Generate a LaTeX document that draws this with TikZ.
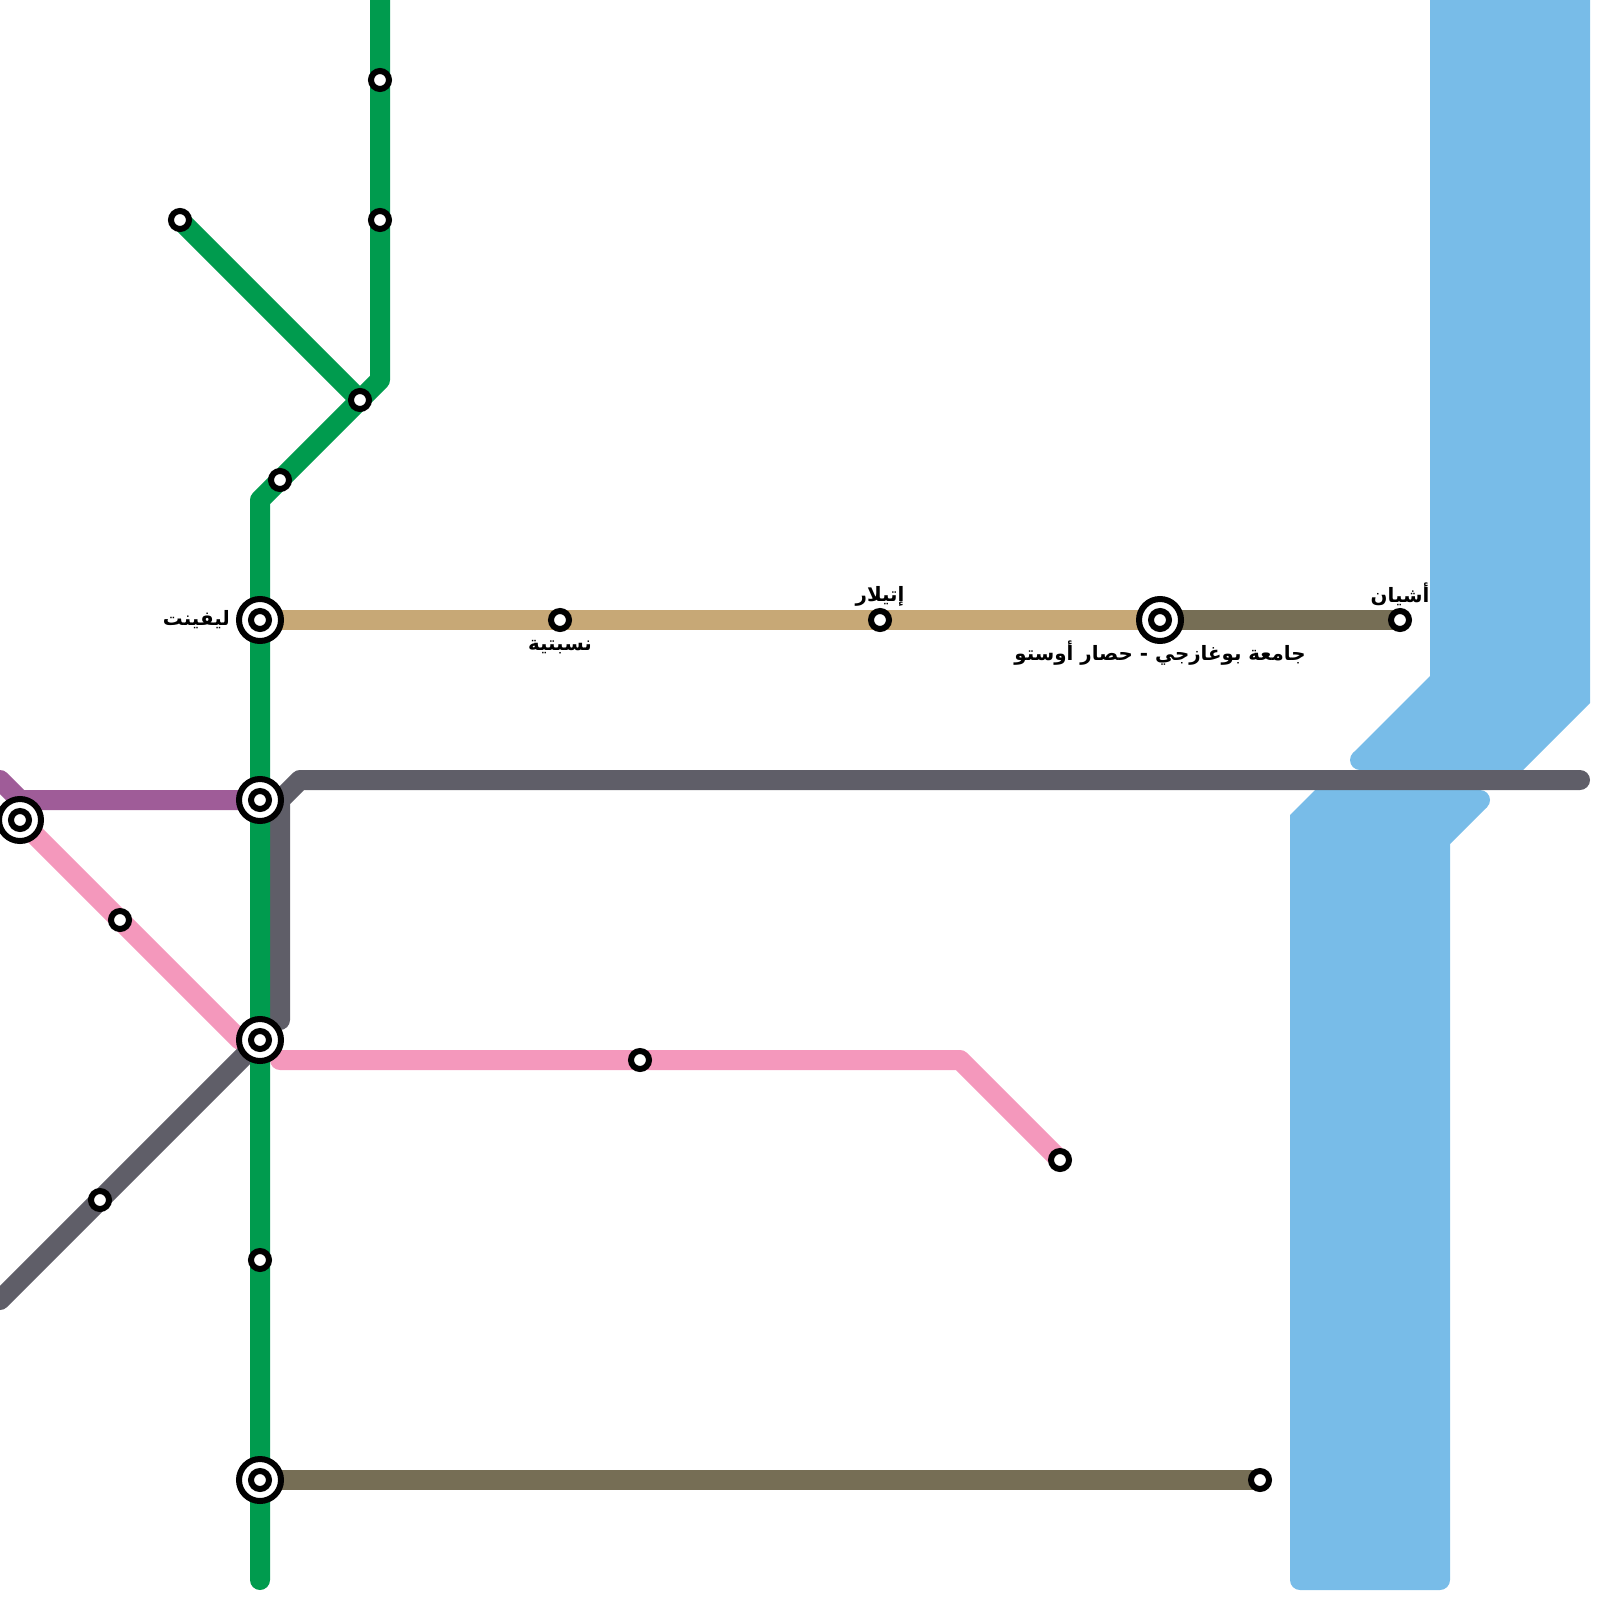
\documentclass[tikz,border=0pt]{standalone}
\usepackage{fontspec}
\newfontfamily\arabicfont[Script=Arabic]{DejaVu Sans}
\TeXXeTstate=1
\pgfdeclarelayer{lines}
\pgfsetlayers{lines,main}
\definecolor{metrogreen}{HTML}{009B4E}
\definecolor{metrotan}{HTML}{C7A876}
\definecolor{metroolive}{HTML}{766E55}
\definecolor{metrogray}{HTML}{5F5E68}
\definecolor{metropurple}{HTML}{9F5C98}
\definecolor{metropink}{HTML}{F498BC}
\definecolor{metrowater}{HTML}{78BCE8}
\tikzset{
  x=1pt,y=-1pt,
  metro/.style={line width=20pt,line cap=round,line join=round},
  stopmark/.style={circle,draw=black,fill=white,line width=6pt,minimum size=18pt,inner sep=0pt,outer sep=0pt},
  hubmark/.style={circle,draw=black,fill=white,line width=6pt,minimum size=42pt,inner sep=0pt,outer sep=0pt},
  hubcore/.style={circle,draw=black,fill=white,line width=6pt,minimum size=18pt,inner sep=0pt,outer sep=0pt},
  stationlabel/.style={font=\arabicfont\bfseries\fontsize{19.8}{24}\selectfont,text=black,inner sep=0pt},
}
\begin{document}
\begin{tikzpicture}
\useasboundingbox (0,0) rectangle (1600,1600);
\clip (0,0) rectangle (1600,1600);
% stations
\node[hubmark] (levent) at (260,620) {};
\node[hubcore] (leventc) at (260,620) {};
\node[hubmark] (gayr) at (260,800) {};
\node[hubcore] (gayrc) at (260,800) {};
\node[hubmark] (mid) at (260,1040) {};
\node[hubcore] (midc) at (260,1040) {};
\node[hubmark] (south) at (260,1480) {};
\node[hubcore] (southc) at (260,1480) {};
\node[hubmark] (west) at (20,820) {};
\node[hubcore] (westc) at (20,820) {};
\node[hubmark] (bogazici) at (1160,620) {};
\node[hubcore] (bogazicic) at (1160,620) {};
\node[stopmark] (ga) at (380,80) {};
\node[stopmark] (gb) at (380,220) {};
\node[stopmark] (gc) at (180,220) {};
\node[stopmark] (gd) at (360,400) {};
\node[stopmark] (ge) at (280,480) {};
\node[stopmark] (gf) at (260,1260) {};
\node[stopmark] (nis) at (560,620) {};
\node[stopmark] (eti) at (880,620) {};
\node[stopmark] (asi) at (1400,620) {};
\node[stopmark] (pa) at (120,920) {};
\node[stopmark] (pb) at (640,1060) {};
\node[stopmark] (pc) at (1060,1160) {};
\node[stopmark] (ya) at (100,1200) {};
\node[stopmark] (oa) at (1260,1480) {};
% free ends and bends
\coordinate (gtop) at (380,-20);
\coordinate (gbend) at (380,380);
\coordinate (gbendb) at (260,500);
\coordinate (gbot) at (260,1580);
\coordinate (puend) at (0,780);
\coordinate (pubend) at (20,800);
\coordinate (yend) at (1580,780);
\coordinate (ybendb) at (300,780);
\coordinate (ybendc) at (280,800);
\coordinate (yendc) at (280,1020);
\coordinate (yendd) at (0,1300);
\coordinate (pdiag) at (240,1040);
\coordinate (pstart) at (280,1060);
\coordinate (pbend) at (960,1060);
\begin{pgfonlayer}{lines}
\clip (0,0) rectangle (1600,1600);
\fill[metrowater]
  (1430,-10) -- (1590,-10) -- (1590,703) -- (1523,770) -- (1480,790)
  -- (1487,807) -- (1450,844) -- (1450,1580)
  .. controls (1450,1585.5) and (1445.5,1590) .. (1440,1590)
  -- (1300,1590)
  .. controls (1294.5,1590) and (1290,1585.5) .. (1290,1580)
  -- (1290,815) -- (1315,790) -- (1315,780) -- (1360,770) -- (1353,753)
  -- (1430,676) -- cycle;
\fill[metrowater] (1360,760) circle[radius=10pt];
\fill[metrowater] (1480,800) circle[radius=10pt];
\draw[metro,metrotan] (levent.center) -- (bogazici.center);
\draw[metro,metroolive] (bogazici.center) -- (asi.center);
\draw[metro,metroolive] (south.center) -- (oa.center);
\draw[metro,metropurple] (puend) -- (pubend) -- (gayr.center);
\draw[metro,metropink] (west.center) -- (pa.center) -- (pdiag);
\draw[metro,metropink] (pstart) -- (pb.center) -- (pbend) -- (pc.center);
\draw[metro,metrogray] (yend) -- (ybendb) -- (ybendc) -- (yendc);
\draw[metro,metrogray] (mid.center) -- (ya.center) -- (yendd);
\draw[metro,metrogreen] (gtop) -- (ga.center) -- (gb.center) -- (gbend) -- (gd.center) -- (ge.center) -- (gbendb) -- (levent.center) -- (gayr.center) -- (mid.center) -- (gf.center) -- (south.center) -- (gbot);
\draw[metro,metrogreen] (gc.center) -- (gd.center);
\end{pgfonlayer}
% labels
\node[stationlabel,anchor=east] (lleven) at (230,620) {\beginR ليفينت\endR};
\node[stationlabel] (lasi) at (1400,594) {\beginR أشيان\endR};
\node[stationlabel] (leti) at (880,596) {\beginR إتيلار\endR};
\node[stationlabel] (lnis) at (560,647) {\beginR نسبتية\endR};
\node[stationlabel] (lbog) at (1160,653) {\beginR جامعة بوغازجي - حصار أوستو\endR};
\end{tikzpicture}
\end{document}
